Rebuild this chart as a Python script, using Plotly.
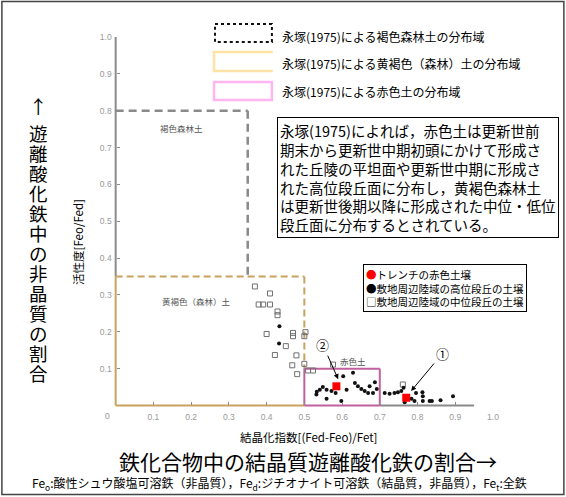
import plotly.graph_objects as go

# ---------------- data ----------------
# trench red soils (labelled ① and ②)
trench_x = [0.770, 0.585]
trench_y = [0.021, 0.052]
trench_tags = ["①", "②"]

# soils of the high terraces around the site
high_x = [0.434, 0.433, 0.533, 0.541, 0.549, 0.532, 0.559, 0.572, 0.559, 0.583,
          0.598, 0.603, 0.612, 0.629, 0.634, 0.642, 0.651, 0.660, 0.669, 0.673,
          0.682, 0.687, 0.692, 0.713, 0.726, 0.739, 0.748, 0.757, 0.763, 0.766,
          0.784, 0.792, 0.796, 0.813, 0.814, 0.814, 0.832, 0.838, 0.861, 0.894]
high_y = [0.215, 0.168, 0.037, 0.043, 0.050, 0.030, 0.043, 0.039, 0.018, 0.034,
          0.012, 0.079, 0.043, 0.089, 0.061, 0.052, 0.045, 0.039, 0.034, 0.052,
          0.034, 0.063, 0.045, 0.034, 0.032, 0.034, 0.036, 0.039, 0.048, 0.009,
          0.018, 0.012, 0.034, 0.036, 0.025, 0.012, 0.012, 0.012, 0.014, 0.025]

# soils of the middle terraces around the site
mid_x = [0.369, 0.409, 0.379, 0.391, 0.409, 0.429, 0.429, 0.400, 0.470, 0.470,
         0.503, 0.500, 0.451, 0.422, 0.479, 0.468, 0.481, 0.500, 0.510, 0.523,
         0.576, 0.761]
mid_y = [0.323, 0.304, 0.274, 0.274, 0.274, 0.255, 0.245, 0.194, 0.197, 0.188,
         0.199, 0.188, 0.161, 0.137, 0.136, 0.109, 0.085, 0.113, 0.095, 0.095,
         0.111, 0.057]

# Nagatsuka (1975) soil domains: x0, x1, y0, y1
brown_forest = [0.0, 0.35, 0.35, 0.80]
yellow_brown = [0.0, 0.50, 0.0, 0.35]
red_soil = [0.50, 0.70, 0.0, 0.10]
x_axis_end = 0.95

tick_vals = [0.1, 0.2, 0.3, 0.4, 0.5, 0.6, 0.7, 0.8, 0.9, 1.0]
tick_text = ["0.1", "0.2", "0.3", "0.4", "0.5", "0.6", "0.7", "0.8", "0.9", "1.0"]

# ---------------- layout geometry ----------------
W, H = 566, 497
X_RANGE = [-0.015, 1.0]
Y_RANGE = [-0.015, 1.0]
M_L, M_R, M_T, M_B = 109.8, 72.5, 37.0, 85.5
PW = W - M_L - M_R
PH = H - M_T - M_B


def fx(px):
    """pixel column -> paper x"""
    return (px - M_L) / PW


def fy(py):
    """pixel row -> paper y"""
    return (H - M_B - py) / PH


JP = "Noto Sans CJK JP"
GRAY = "#8a8a8a"
TAN = "#c9a25e"
MAUVE = "#c0609e"

fig = go.Figure()

fig.add_trace(go.Scatter(
    x=mid_x, y=mid_y, mode="markers",
    marker=dict(symbol="square-open", size=5, color="#707070", line=dict(width=1)),
    hoverinfo="skip"))
fig.add_trace(go.Scatter(
    x=high_x, y=high_y, mode="markers",
    marker=dict(symbol="circle", size=4, color="#111111"),
    hoverinfo="skip"))
fig.add_trace(go.Scatter(
    x=trench_x, y=trench_y, mode="markers",
    marker=dict(symbol="square", size=8, color="#ff0000"),
    hoverinfo="skip"))

shapes = []


def seg(x0, y0, x1, y1, color, width, dash="solid"):
    shapes.append(dict(type="line", xref="x", yref="y", x0=x0, y0=y0, x1=x1, y1=y1,
                       line=dict(color=color, width=width, dash=dash), layer="below"))


# axes drawn piecewise in the domain colours
bx0, bx1, by0, by1 = brown_forest
yx0, yx1, yy0, yy1 = yellow_brown
rx0, rx1, ry0, ry1 = red_soil
seg(0, yy1, 0, 1.0, GRAY, 2)
seg(rx1, 0, x_axis_end, 0, GRAY, 2)
# brown forest soil domain
seg(bx0, by1, bx1, by1, GRAY, 2.5, "8px,5px")
seg(bx1, by1, bx1, by0, GRAY, 2.5, "8px,5px")
# yellow-brown (forest) soil domain
seg(yx0, yy0, yx0, yy1, TAN, 2)
seg(yx0, yy0, yx1, yy0, TAN, 2)
seg(yx0, yy1, yx1, yy1, TAN, 2, "7px,4px")
seg(yx1, yy1, yx1, ry1, TAN, 2, "7px,4px")
# red soil domain
seg(rx0, ry0, rx1, ry0, MAUVE, 2)
seg(rx0, ry0, rx0, ry1, MAUVE, 2)
seg(rx0, ry1, rx1, ry1, MAUVE, 2)
seg(rx1, ry0, rx1, ry1, MAUVE, 2)


def prect(x0, y0, x1, y1, color, width, dash="solid"):
    shapes.append(dict(type="rect", xref="paper", yref="paper",
                       x0=fx(x0), x1=fx(x1), y0=fy(y0), y1=fy(y1),
                       line=dict(color=color, width=width, dash=dash)))


# key swatches for the domains
prect(215, 24, 272, 42, "#111111", 2, "dot")
shapes.append(dict(type="path", xref="paper", yref="paper",
                   path=f"M {fx(273)},{fy(52)} L {fx(214)},{fy(52)} L {fx(214)},{fy(71)} L {fx(273)},{fy(71)}",
                   line=dict(color="#ffe3a6", width=2.5)))
prect(214, 82, 272, 100, "#ffb6ef", 2.5)
# outer frame
prect(1.5, 1.5, 564.5, 495, "#444444", 1.5)

ann = []


def ptext(px, py, text, size, color="#000000", family=JP, xanchor="center", **kw):
    ann.append(dict(xref="paper", yref="paper", x=fx(px), y=fy(py), text=text,
                    showarrow=False, xanchor=xanchor, yanchor="middle",
                    font=dict(family=family, size=size, color=color), **kw))


# domain key labels
ptext(280, 36, "永塚(1975)による褐色森林土の分布域", 12, xanchor="left")
ptext(280, 64, "永塚(1975)による黄褐色（森林）土の分布域", 12, xanchor="left")
ptext(280, 92, "永塚(1975)による赤色土の分布域", 12, xanchor="left")

# explanatory note box
note = ("永塚(1975)によれば，赤色土は更新世前<br>"
        "期末から更新世中期初頭にかけて形成さ<br>"
        "れた丘陵の平坦面や更新世中期に形成さ<br>"
        "れた高位段丘面に分布し，黄褐色森林土<br>"
        "は更新世後期以降に形成された中位・低位<br>"
        "段丘面に分布するとされている。")
ann.append(dict(xref="paper", yref="paper", x=fx(277), y=fy(117), text=note,
                showarrow=False, xanchor="left", yanchor="top", align="left",
                font=dict(family=JP, size=14.5, color="#000000"),
                bordercolor="#000000", borderwidth=1, borderpad=2, bgcolor="#ffffff"))

# marker key box
key = ('<span style="color:#ff0000">●</span>トレンチの赤色土壌<br>'
       '●敷地周辺陸域の高位段丘の土壌<br>'
       '□敷地周辺陸域の中位段丘の土壌')
ann.append(dict(xref="paper", yref="paper", x=fx(363), y=fy(264), text=key,
                showarrow=False, xanchor="left", yanchor="top", align="left",
                font=dict(family=JP, size=10.5, color="#000000"),
                bordercolor="#000000", borderwidth=1, borderpad=2, bgcolor="#ffffff"))

# domain names inside the plot
for (tx, ty, t) in [(0.175, 0.752, "褐色森林土"), (0.215, 0.283, "黄褐色（森林）土"),
                    (0.63, 0.12, "赤色土")]:
    ann.append(dict(xref="x", yref="y", x=tx, y=ty, text=t, showarrow=False,
                    font=dict(family=JP, size=8.5, color="#555555")))

# trench callouts
tag_pos = {"①": (0.865, 0.14), "②": (0.549, 0.165)}
for x, y, tag in zip(trench_x, trench_y, trench_tags):
    ax, ay = tag_pos[tag]
    ann.append(dict(xref="x", yref="y", axref="x", ayref="y",
                    x=x + 0.008, y=y + 0.012, ax=ax, ay=ay, text=tag,
                    showarrow=True, arrowhead=2, arrowsize=1, arrowwidth=1,
                    arrowcolor="#000000", standoff=3,
                    font=dict(family=JP, size=13, color="#000000")))

# origin label shared by both axes
ptext(107, 417, "0", 8.5, color="#999999", family="Liberation Sans")

# axis titles
ptext(77, 242, "活性度[Feo/Fed]", 11.5, textangle=-90)
ptext(309, 438, "結晶化指数[(Fed-Feo)/Fet]", 11.5)
ptext(308, 462, "鉄化合物中の結晶質遊離酸化鉄の割合→", 21)
ptext(280, 484, "Fe<sub>o</sub>:酸性シュウ酸塩可溶鉄（非晶質），Fe<sub>d</sub>:ジチオナイト可溶鉄（結晶質，非晶質），Fe<sub>t</sub>:全鉄", 12)

# vertical caption on the left, one upright character per row
side = "↑遊離酸化鉄中の非晶質の割合"
for i, ch in enumerate(side):
    yc = 106 if i == 0 else 133 + 20 * (i - 1)
    ptext(38, yc, ch, 18.5)

pos_x = (0 - X_RANGE[0]) / (X_RANGE[1] - X_RANGE[0])
pos_y = (0 - Y_RANGE[0]) / (Y_RANGE[1] - Y_RANGE[0])

axis_common = dict(showgrid=False, zeroline=False, showline=False, ticks="inside",
                   ticklen=3, tickwidth=1, tickcolor=GRAY, tickvals=tick_vals,
                   ticktext=tick_text, automargin=False, anchor="free",
                   tickfont=dict(family="Liberation Sans", size=8.5, color="#999999"))

fig.update_layout(
    width=W, height=H,
    margin=dict(l=M_L, r=M_R, t=M_T, b=M_B, pad=0),
    paper_bgcolor="#ffffff", plot_bgcolor="#ffffff",
    showlegend=False,
    xaxis=dict(range=X_RANGE, position=pos_y, ticklabelstandoff=5, **axis_common),
    yaxis=dict(range=Y_RANGE, position=pos_x, ticklabelstandoff=4, **axis_common),
    shapes=shapes, annotations=ann,
)

fig.write_html("out.html")
